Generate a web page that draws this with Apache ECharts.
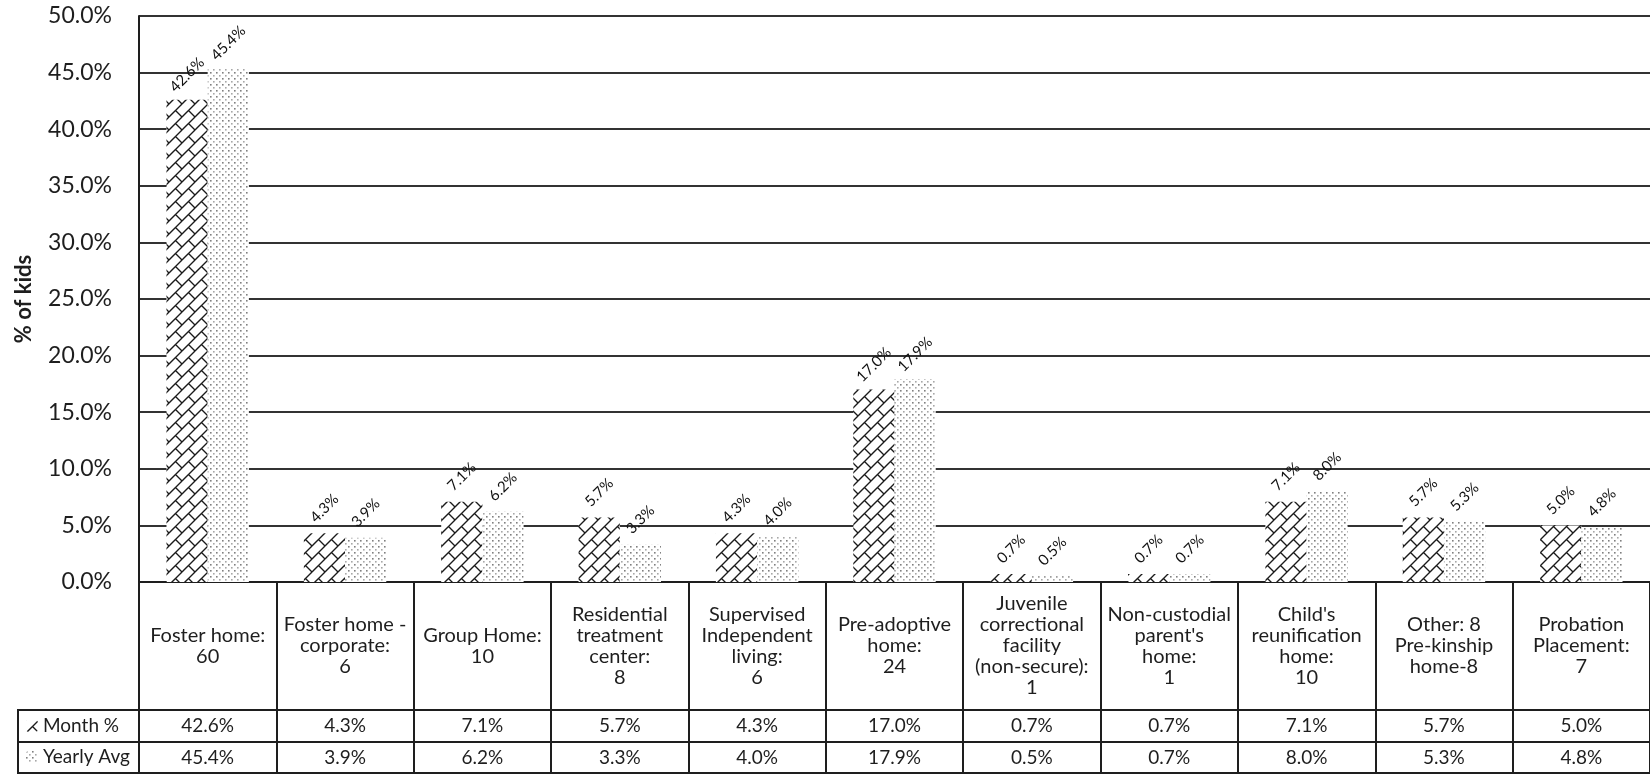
<!DOCTYPE html>
<html>
<head>
<meta charset="utf-8">
<script src="https://cdn.jsdelivr.net/npm/echarts@6/dist/echarts.min.js"></script>
<style>
  html, body { margin: 0; padding: 0; background: #fff; }
  #chart { width: 1650px; height: 775px; }
</style>
</head>
<body>
<div id="chart"></div>
<script>
// Placement categories (table header text) and the two compared series
const categories = [
  'Foster home:\n60',
  'Foster home -\ncorporate:\n6',
  'Group Home:\n10',
  'Residential\ntreatment\ncenter:\n8',
  'Supervised\nIndependent\nliving:\n6',
  'Pre-adoptive\nhome:\n24',
  'Juvenile\ncorrectional\nfacility\n(non-secure):\n1',
  'Non-custodial\nparent\'s\nhome:\n1',
  'Child\'s\nreunification\nhome:\n10',
  'Other: 8\nPre-kinship\nhome-8',
  'Probation\nPlacement:\n7'
];
const seriesNames = ['Month %', 'Yearly Avg'];
const monthPct  = [42.6, 4.3, 7.1, 5.7, 4.3, 17.0, 0.7, 0.7, 7.1, 5.7, 5.0];
const yearlyAvg = [45.4, 3.9, 6.2, 3.3, 4.0, 17.9, 0.5, 0.7, 8.0, 5.3, 4.8];
const yAxisRange = { min: 0, max: 50, interval: 5 };
const yAxisTitle = '% of kids';

const fmtPct = v => v.toFixed(1) + '%';
const FONT = 'Lato, "Open Sans", sans-serif';
const INK = '#1e1e1e';

// Diagonal brick fill
function brickPattern() {
  const s = 13;
  const c = document.createElement('canvas');
  c.width = c.height = s;
  const g = c.getContext('2d');
  g.fillStyle = '#fff';
  g.fillRect(0, 0, s, s);
  g.strokeStyle = '#1a1a1a';
  g.lineWidth = 1.4;
  for (const dx of [-s, 0, s]) {
    for (const dy of [-s, 0, s]) {
      g.beginPath();
      g.moveTo(dx, s + dy); g.lineTo(s + dx, dy);
      g.moveTo(s / 2 + dx, s / 2 + dy); g.lineTo(s + dx, s + dy);
      g.stroke();
    }
  }
  return c;
}

// Grey dotted fill
function dotPattern() {
  const s = 6;
  const c = document.createElement('canvas');
  c.width = c.height = s;
  const g = c.getContext('2d');
  g.fillStyle = '#fff';
  g.fillRect(0, 0, s, s);
  g.fillStyle = '#808080';
  g.fillRect(0, 0, 1.6, 1.6);
  g.fillStyle = '#a8a8a8';
  g.fillRect(3, 3, 1.6, 1.6);
  return c;
}

const GRID = { left: 139, top: 16, width: 1516, bottom: 193 };
const HEADER_H = 128, ROW_H = 32, TABLE_H = 191;
const lineStyle = { color: INK, width: 2 };

const labelCfg = {
  show: true,
  position: 'top',
  distance: 25,
  rotate: 45,
  align: 'center',
  verticalAlign: 'middle',
  fontFamily: FONT,
  fontSize: 15,
  color: '#111',
  formatter: p => fmtPct(p.value)
};

const chart = echarts.init(document.getElementById('chart'), null, { renderer: 'canvas' });
chart.setOption({
  backgroundColor: '#fff',
  animation: false,
  grid: GRID,
  legend: {
    orient: 'vertical',
    left: 26,
    top: 716,
    padding: 0,
    itemWidth: 12,
    itemHeight: 12,
    itemGap: 11,
    textStyle: { fontFamily: FONT, fontSize: 19, color: INK, lineHeight: 20 },
    data: seriesNames
  },
  xAxis: [
    {
      type: 'category',
      data: categories,
      position: 'bottom',
      axisLine: { show: true, lineStyle },
      axisTick: { show: true, length: TABLE_H, lineStyle, interval: 0 },
      axisLabel: {
        interval: 0,
        margin: HEADER_H / 2,
        verticalAlign: 'middle',
        align: 'center',
        fontFamily: FONT,
        fontSize: 20,
        lineHeight: 21,
        color: INK
      }
    },
    {
      type: 'category',
      data: monthPct.map(fmtPct),
      position: 'bottom',
      offset: HEADER_H,
      axisLine: { show: true, lineStyle },
      axisTick: { show: false },
      axisLabel: {
        interval: 0, margin: ROW_H / 2, verticalAlign: 'middle',
        fontFamily: FONT, fontSize: 19, color: INK
      }
    },
    {
      type: 'category',
      data: yearlyAvg.map(fmtPct),
      position: 'bottom',
      offset: HEADER_H + ROW_H,
      axisLine: { show: true, lineStyle },
      axisTick: { show: false },
      axisLabel: {
        interval: 0, margin: ROW_H / 2, verticalAlign: 'middle',
        fontFamily: FONT, fontSize: 19, color: INK
      }
    },
    {
      type: 'category',
      data: categories.map(() => ''),
      position: 'bottom',
      offset: TABLE_H,
      axisLine: { show: true, lineStyle },
      axisTick: { show: false },
      axisLabel: { show: false }
    }
  ],
  yAxis: {
    type: 'value',
    min: yAxisRange.min,
    max: yAxisRange.max,
    interval: yAxisRange.interval,
    name: yAxisTitle,
    nameLocation: 'middle',
    nameGap: 104,
    nameTextStyle: { fontFamily: FONT, fontSize: 22, fontWeight: 'bold', color: INK },
    axisLine: { show: true, lineStyle },
    axisTick: { show: false },
    axisLabel: {
      margin: 27,
      fontFamily: FONT,
      fontSize: 23,
      color: INK,
      formatter: v => fmtPct(v)
    },
    splitLine: { show: true, lineStyle: { color: '#333', width: 2 } }
  },
  series: [
    {
      name: seriesNames[0],
      type: 'bar',
      data: monthPct,
      barWidth: '30%',
      barGap: '0%',
      itemStyle: { color: { image: brickPattern(), repeat: 'repeat' } },
      label: labelCfg
    },
    {
      name: seriesNames[1],
      type: 'bar',
      data: yearlyAvg,
      barWidth: '30%',
      barGap: '0%',
      itemStyle: { color: { image: dotPattern(), repeat: 'repeat' } },
      label: labelCfg
    }
  ],
  // Borders of the series-name cells left of the data rows
  graphic: [
    { type: 'line', shape: { x1: 18, y1: 710, x2: GRID.left, y2: 710 }, style: { stroke: INK, lineWidth: 2 } },
    { type: 'line', shape: { x1: 18, y1: 742, x2: GRID.left, y2: 742 }, style: { stroke: INK, lineWidth: 2 } },
    { type: 'line', shape: { x1: 18, y1: 773, x2: GRID.left, y2: 773 }, style: { stroke: INK, lineWidth: 2 } },
    { type: 'line', shape: { x1: 18, y1: 709, x2: 18, y2: 774 }, style: { stroke: INK, lineWidth: 2 } }
  ]
});
</script>
</body>
</html>
